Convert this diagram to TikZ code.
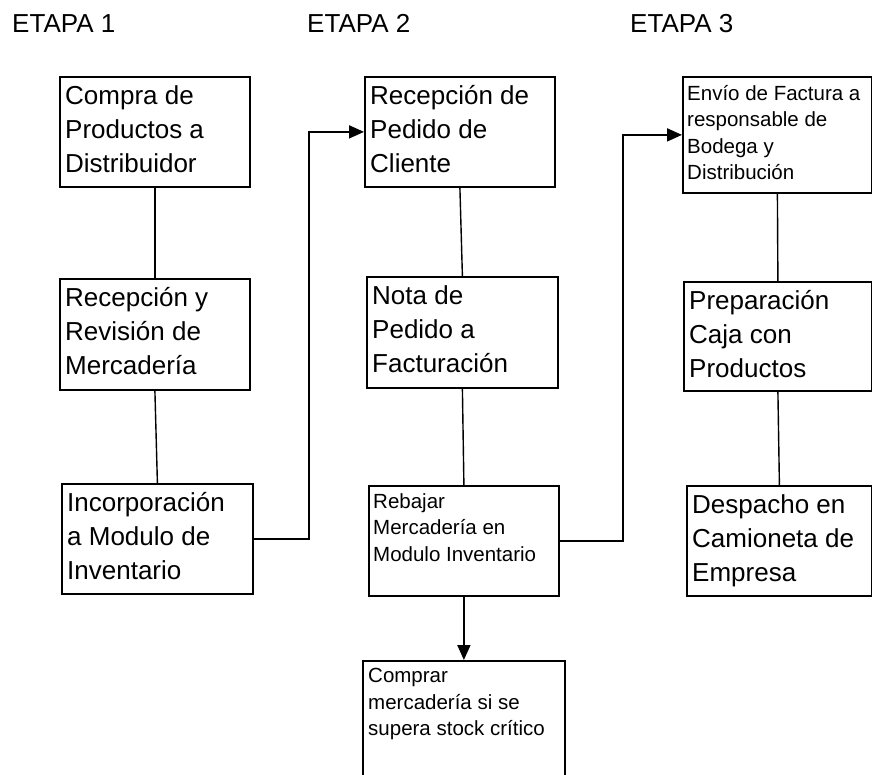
\documentclass[tikz,border=0pt]{standalone}
\usepackage{fontspec}
\setmainfont{Liberation Sans}
\usetikzlibrary{arrows.meta,positioning}
\tikzset{
  caja/.style={draw, line width=1.8pt, anchor=north west, inner sep=0pt,
    minimum width=190pt, minimum height=110pt},
  texto/.style={anchor=north west, inner sep=0pt, align=left,
    font=\fontsize{26}{34}\selectfont},
  textochico/.style={anchor=north west, inner sep=0pt, align=left,
    font=\fontsize{20.5}{26.5}\selectfont},
  etapa/.style={anchor=base west, inner sep=0pt, font=\fontsize{26}{30}\selectfont},
  union/.style={line width=1.4pt},
  flecha/.style={line width=1.8pt, -{Triangle[length=15pt,width=13pt]}}
}
\begin{document}
\begin{tikzpicture}[x=1pt,y=-1pt]
	\clip (0,0) rectangle (872,775);

	% etapas
	\node[etapa] (et1) at (12,33) {ETAPA 1};
	\node[etapa] (et2) at (307,33) {ETAPA 2};
	\node[etapa] (et3) at (630,33) {ETAPA 3};

	% etapa 1
	\node[caja] (compra) at (59,76) {};
	\node[caja, minimum height=111pt] (revision) at (59,278) {};
	\node[caja, minimum width=191pt] (incorp) at (61,483) {};
	\node[texto] (tcompra) at ([xshift=6pt,yshift=-9pt]compra.north west) {Compra de\\Productos a\\Distribuidor};
	\node[texto] (trevision) at ([xshift=6pt,yshift=-9pt]revision.north west) {Recepción y\\Revisión de\\Mercadería};
	\node[texto] (tincorp) at ([xshift=6pt,yshift=-9pt]incorp.north west) {Incorporación\\a Modulo de\\Inventario};

	% etapa 2
	\node[caja] (pedido) at (364,76) {};
	\node[caja, minimum width=191pt, minimum height=111pt] (nota) at (366,276) {};
	\node[caja] (rebajar) at (368,485) {};
	\node[caja, minimum width=202pt, minimum height=130pt] (comprar) at (362,660) {};
	\node[texto] (tpedido) at ([xshift=6pt,yshift=-9pt]pedido.north west) {Recepción de\\Pedido de\\Cliente};
	\node[texto] (tnota) at ([xshift=6pt,yshift=-9pt]nota.north west) {Nota de\\Pedido a\\Facturación};
	\node[textochico] (trebajar) at ([xshift=5pt,yshift=-8pt]rebajar.north west) {Rebajar\\Mercadería en\\Modulo Inventario};
	\node[textochico] (tcomprar) at ([xshift=6pt,yshift=-8pt]comprar.north west) {Comprar\\mercadería si se\\supera stock crítico};

	% etapa 3
	\node[caja, minimum width=189pt, minimum height=116pt] (envio) at (682,76) {};
	\node[caja, minimum width=188pt, minimum height=109pt] (caja) at (683,281) {};
	\node[caja, minimum width=185pt] (despacho) at (686,485) {};
	\node[textochico] (tenvio) at ([xshift=5pt,yshift=-9pt]envio.north west) {Envío de Factura a\\responsable de\\Bodega y\\Distribución};
	\node[texto] (tcaja) at ([xshift=6pt,yshift=-9pt]caja.north west) {Preparación\\Caja con\\Productos};
	\node[texto] (tdespacho) at ([xshift=6pt,yshift=-9pt]despacho.north west) {Despacho en\\Camioneta de\\Empresa};

	% uniones
	\draw[union] (compra.south) -- (revision.north);
	\draw[union] (revision.south) -- (incorp.north);
	\draw[union] (pedido.south) -- (nota.north);
	\draw[union] (nota.south) -- (rebajar.north);
	\draw[union] (envio.south) -- (caja.north);
	\draw[union] (caja.south) -- (despacho.north);

	% flechas
	\draw[flecha] (incorp.east) -- ++(55,0) |- (pedido.west);
	\draw[flecha] (rebajar.east) -- ++(63,0) |- (envio.west);
	\draw[flecha] (rebajar.south) -- (comprar.north);
\end{tikzpicture}
\end{document}
